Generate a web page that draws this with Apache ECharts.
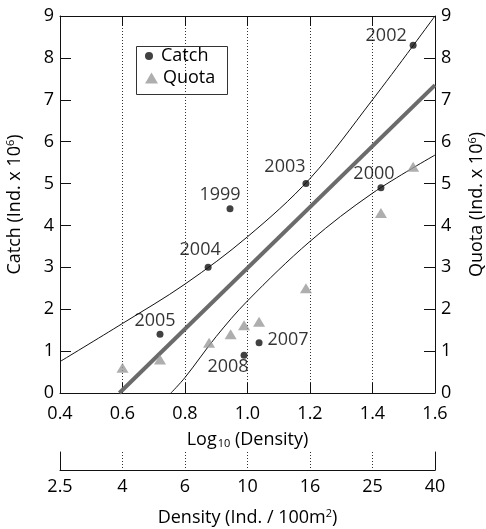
<!DOCTYPE html>
<html>
<head>
<meta charset="utf-8">
<script src="https://cdn.jsdelivr.net/npm/echarts@6/dist/echarts.min.js"></script>
<style>html,body{margin:0;padding:0;background:#fff}#c{width:486px;height:529px}</style>
</head>
<body>
<div id="c"></div>
<script>
// ---- data ----
const years = ['1999','2000','2002','2003','2004','2005','2007','2008'];
const catchLogDensity = [0.944, 1.427, 1.53, 1.187, 0.874, 0.72, 1.037, 0.989];
const catchValues = [4.4, 4.9, 8.3, 5.0, 3.0, 1.4, 1.2, 0.9];
const quotaLogDensity = [0.6, 0.72, 0.877, 0.946, 0.989, 1.037, 1.187, 1.427, 1.53];
const quotaValues = [0.6, 0.8, 1.2, 1.4, 1.62, 1.7, 2.5, 4.3, 5.4];
const fitX = [0.59, 1.6];
const fitY = [0, 7.35];
const upperX = [0.4, 0.6, 0.8, 1.0, 1.2, 1.4, 1.6];
const upperY = [0.75, 1.66, 2.6, 3.73, 5.12, 7.0, 9.0];
const lowerX = [0.755, 0.8, 0.9, 1.0, 1.2, 1.4, 1.6];
const lowerY = [0, 0.37, 1.35, 2.2, 3.62, 4.77, 5.68];
const logTicks = [0.4, 0.6, 0.8, 1.0, 1.2, 1.4, 1.6];
const densityLabels = ['2.5', '4', '6', '10', '16', '25', '40'];

// ---- label placement (style, not data) ----
const labelOffsets = {
  '1999': [-10, -14], '2000': [-7, -14], '2002': [-27, -9], '2003': [-21, -17],
  '2004': [-8, -17], '2005': [-5, -13], '2007': [29, -3], '2008': [-16, 12]
};

const FONT = 'Open Sans';
const FS = 18;
const TXT = '#000';
const zip = (xs, ys) => xs.map((x, i) => [x, ys[i]]);

const catchData = catchLogDensity.map((x, i) => ({
  value: [x, catchValues[i]],
  label: { show: true, formatter: years[i], position: 'inside', offset: labelOffsets[years[i]],
           color: TXT, fontFamily: FONT, fontSize: FS }
}));

const chart = echarts.init(document.getElementById('c'), null, { renderer: 'canvas' });
const axisText = { color: TXT, fontFamily: FONT, fontSize: FS };
const rich = {
  n: { color: TXT, fontFamily: FONT, fontSize: FS },
  p: { color: TXT, fontFamily: FONT, fontSize: 11, padding: [0, 0, 8, 0] },
  s: { color: TXT, fontFamily: FONT, fontSize: 11, padding: [8, 0, 0, 1] }
};
const dotted = { color: '#333', type: [1, 2], width: 1 };

chart.setOption({
  animation: false,
  backgroundColor: '#fff',
  grid: [
    { left: 60, right: 51, top: 16, bottom: 136, containLabel: false, outerBoundsMode: 'none' },
    { left: 60, right: 51, top: 452, height: 18, containLabel: false, outerBoundsMode: 'none' }
  ],
  xAxis: [
    {
      gridIndex: 0, type: 'value', min: 0.4, max: 1.6, interval: 0.2, position: 'bottom',
      axisLine: { onZero: false, lineStyle: { color: '#111', width: 1 } },
      axisTick: { inside: true, length: 10, lineStyle: { color: '#111' } },
      axisLabel: { ...axisText, margin: 12, formatter: v => v.toFixed(1) },
      splitLine: { show: true, lineStyle: dotted },
      name: '{n|Log}{s|10}{n| (Density)}', nameLocation: 'middle', nameGap: 37,
      nameTextStyle: { rich }
    },
    {
      gridIndex: 0, type: 'value', min: 0.4, max: 1.6, interval: 0.2, position: 'top',
      axisLine: { onZero: false, lineStyle: { color: '#111', width: 1 } },
      axisTick: { inside: true, length: 10, lineStyle: { color: '#111' } },
      axisLabel: { show: false }, splitLine: { show: false }
    },
    {
      gridIndex: 1, type: 'value', min: 0.4, max: 1.6, interval: 0.2, position: 'bottom',
      axisLine: { onZero: false, lineStyle: { color: '#111', width: 1 } },
      axisTick: { show: false },
      axisLabel: { ...axisText, margin: 8,
        formatter: v => { const i = logTicks.findIndex(t => Math.abs(t - v) < 1e-6); return i >= 0 ? densityLabels[i] : ''; } },
      splitLine: { show: true, lineStyle: dotted },
      name: '{n|Density (Ind. / 100m}{p|2}{n|)}', nameLocation: 'middle', nameGap: 38,
      nameTextStyle: { rich }
    }
  ],
  yAxis: [
    {
      gridIndex: 0, type: 'value', min: 0, max: 9, interval: 1, position: 'left',
      axisLine: { show: true, onZero: false, lineStyle: { color: '#111', width: 1 } },
      axisTick: { show: true, inside: true, length: 11, lineStyle: { color: '#111' } },
      axisLabel: { ...axisText, margin: 6 },
      splitLine: { show: false },
      name: '{n|Catch (Ind. x 10}{p|6}{n|)}', nameLocation: 'middle', nameGap: 36,
      nameTextStyle: { rich }
    },
    {
      gridIndex: 0, type: 'value', min: 0, max: 9, interval: 1, position: 'right',
      axisLine: { show: true, onZero: false, lineStyle: { color: '#111', width: 1 } },
      axisTick: { show: true, inside: true, length: 11, lineStyle: { color: '#111' } },
      axisLabel: { ...axisText, margin: 6 },
      splitLine: { show: false },
      name: '{n|Quota (Ind. x 10}{p|6}{n|)}', nameLocation: 'middle', nameGap: 32,
      nameTextStyle: { rich }
    },
    {
      gridIndex: 1, type: 'value', min: 0, max: 1, position: 'left',
      axisLine: { show: true, onZero: false, lineStyle: { color: '#111', width: 1 } },
      axisTick: { show: false }, axisLabel: { show: false }, splitLine: { show: false }
    },
    {
      gridIndex: 1, type: 'value', min: 0, max: 1, position: 'right',
      axisLine: { show: true, onZero: false, lineStyle: { color: '#111', width: 1 } },
      axisTick: { show: false }, axisLabel: { show: false }, splitLine: { show: false }
    }
  ],
  legend: [
    {
      data: [{ name: 'Catch', icon: 'circle' }], left: 145, top: 47, itemWidth: 14, itemHeight: 8,
      itemGap: 0, padding: 0, textStyle: { color: TXT, fontFamily: FONT, fontSize: FS },
      selectedMode: false
    },
    {
      data: [{ name: 'Quota', icon: 'triangle' }], left: 145, top: 69, itemWidth: 13, itemHeight: 11,
      itemGap: 0, padding: 0, textStyle: { color: TXT, fontFamily: FONT, fontSize: FS },
      selectedMode: false
    }
  ],
  graphic: [
    { type: 'rect', left: 134, top: 44, shape: { width: 91, height: 48 }, z: 100,
      style: { fill: 'none', stroke: '#333', lineWidth: 1 } }
  ],
  series: [
    { type: 'line', name: 'fit', xAxisIndex: 0, yAxisIndex: 0, data: zip(fitX, fitY), showSymbol: false,
      lineStyle: { color: '#6b6b6b', width: 4 }, z: 2, silent: true },
    { type: 'line', name: 'upper', xAxisIndex: 0, yAxisIndex: 0, data: zip(upperX, upperY), showSymbol: false,
      smooth: 0.35, lineStyle: { color: '#111', width: 1 }, z: 3, silent: true },
    { type: 'line', name: 'lower', xAxisIndex: 0, yAxisIndex: 0, data: zip(lowerX, lowerY), showSymbol: false,
      smooth: 0.35, lineStyle: { color: '#111', width: 1 }, z: 3, silent: true },
    { type: 'scatter', name: 'Quota', xAxisIndex: 0, yAxisIndex: 0, data: zip(quotaLogDensity, quotaValues),
      symbol: 'triangle', symbolSize: [12, 10], itemStyle: { color: '#9a9a9a' }, z: 4 },
    { type: 'scatter', name: 'Catch', xAxisIndex: 0, yAxisIndex: 0, data: catchData,
      symbol: 'circle', symbolSize: 7, itemStyle: { color: '#111' }, z: 5 }
  ]
});
</script>
</body>
</html>
